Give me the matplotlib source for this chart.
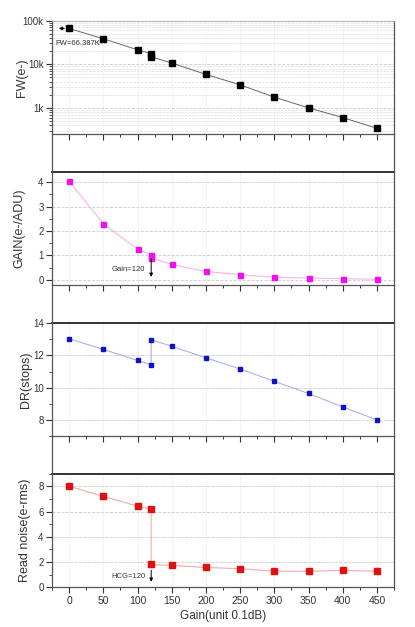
import numpy as np
from matplotlib import pyplot as plt
from matplotlib.lines import Line2D
from matplotlib.ticker import MultipleLocator, LogLocator, NullFormatter, FuncFormatter

plt.rcParams['font.family'] = ['Liberation Sans', 'DejaVu Sans']

# gain setting (0.1 dB units), 120 appears twice: LCG -> HCG switch
gain = [0, 50, 100, 120, 120, 150, 200, 250, 300, 350, 400, 450]
fw = [66387, 38500, 21500, 17500, 14900, 10700, 5850, 3380, 1760, 1000, 600, 340]
gain_adu = [4.04, 2.30, 1.25, 1.03, 0.90, 0.63, 0.34, 0.21, 0.10, 0.07, 0.04, 0.02]
dr = [13.03, 12.37, 11.69, 11.42, 12.97, 12.56, 11.85, 11.16, 10.40, 9.65, 8.82, 8.02]
rn = [8.0, 7.20, 6.43, 6.20, 1.80, 1.72, 1.56, 1.46, 1.27, 1.25, 1.33, 1.25]

W, H = 415, 627
fig = plt.figure(figsize=(W / 100, H / 100), dpi=100)

left, right = 52, 394
tops = [20.7, 171.7, 323.0, 473.7]
ph = 113.4

def fr(x0, y0, w, h):
    return [x0 / W, 1 - (y0 + h) / H, w / W, h / H]

axes = []
for i, t in enumerate(tops):
    ax = fig.add_axes(fr(left, t, right - left, ph))
    axes.append(ax)

# connecting side lines in the gaps between layers
for i in range(3):
    y_a = 1 - (tops[i] + ph) / H
    y_b = 1 - tops[i + 1] / H
    for xx in (left, right):
        fig.add_artist(Line2D([xx / W, xx / W], [y_a, y_b], color='#555555', lw=0.9))

def style(ax, last=False):
    ax.set_xlim(-25, 475)
    ax.xaxis.set_major_locator(MultipleLocator(50))
    ax.xaxis.set_minor_locator(MultipleLocator(25))
    ax.tick_params(axis='x', which='major', direction='out', length=4, width=0.8,
                   labelsize=7.5, colors='#333333', pad=2.5)
    ax.tick_params(axis='x', which='minor', direction='out', length=2, width=0.7, colors='#333333')
    ax.tick_params(axis='y', which='major', direction='out', length=4, width=0.8,
                   labelsize=7, colors='#333333', pad=2)
    ax.tick_params(axis='y', which='minor', direction='out', length=2, width=0.6, colors='#333333')
    if not last:
        ax.tick_params(axis='x', labelbottom=False)
    for s in ('left', 'bottom', 'right'):
        ax.spines[s].set_color('#555555')
        ax.spines[s].set_linewidth(0.9)
    ax.spines['top'].set_color('#333333')
    ax.spines['top'].set_linewidth(1.4)
    ax.grid(True, axis='y', which='major', color='#cccccc', ls='--', lw=0.6)
    ax.grid(True, axis='x', which='major', color='#eeeeee', ls='-', lw=0.5)
    ax.set_axisbelow(True)

# FW panel
ax = axes[0]
style(ax)
ax.set_yscale('log')
ax.set_ylim(250, 100000)
ax.yaxis.set_major_locator(LogLocator(base=10, numticks=10))
ax.yaxis.set_minor_locator(LogLocator(base=10, subs=np.arange(2, 10), numticks=20))
ax.yaxis.set_minor_formatter(NullFormatter())
ax.yaxis.set_major_formatter(FuncFormatter(lambda v, p: {1000: '1k', 10000: '10k', 100000: '100k'}.get(int(round(v)), '')))
ax.grid(True, axis='y', which='minor', color='#dddddd', ls='--', lw=0.5)
ax.spines['top'].set_color('#aaaaaa')
ax.spines['top'].set_linewidth(0.6)
ax.plot(gain, fw, color='#666666', lw=0.7, marker='s', ms=4.3, mfc='black', mec='black', zorder=3)
ax.annotate('', xy=(-19, 66387), xytext=(-3, 66387),
            arrowprops=dict(arrowstyle='-|>', color='black', lw=0.7, mutation_scale=5))
ax.text(-20, 30000, 'FW=66.387K', fontsize=5.5, color='#333333', va='center')
ax.set_ylabel('FW(e-)', fontsize=9, color='#333333')
ax.yaxis.set_label_coords(-0.070, 0.5)

# GAIN panel
ax = axes[1]
style(ax)
ax.set_ylim(-0.22, 4.43)
ax.yaxis.set_major_locator(MultipleLocator(1))
ax.yaxis.set_minor_locator(MultipleLocator(0.5))
ax.plot(gain, gain_adu, color='#f5b4e6', lw=0.8, marker='s', ms=3.6, mfc='#ee10ee', mec='#ee10ee', zorder=3)
ax.annotate('', xy=(120, 0.0), xytext=(120, 0.98),
            arrowprops=dict(arrowstyle='-|>', color='black', lw=0.7, mutation_scale=5))
ax.text(111, 0.44, 'Gain=120', fontsize=5.5, color='#333333', ha='right', va='center')
ax.set_ylabel('GAIN(e-/ADU)', fontsize=9, color='#333333')
ax.yaxis.set_label_coords(-0.079, 0.5)

# DR panel
ax = axes[2]
style(ax)
ax.set_ylim(7, 14)
ax.yaxis.set_major_locator(MultipleLocator(2))
ax.yaxis.set_minor_locator(MultipleLocator(1))
ax.plot(gain, dr, color='#aeaef0', lw=0.8, marker='s', ms=3.2, mfc='#1010c8', mec='#1010c8', zorder=3)
ax.set_ylabel('DR(stops)', fontsize=9, color='#333333')
ax.yaxis.set_label_coords(-0.058, 0.5)

# Read noise panel
ax = axes[3]
style(ax, last=True)
ax.set_ylim(0, 9)
ax.yaxis.set_major_locator(MultipleLocator(2))
ax.yaxis.set_minor_locator(MultipleLocator(1))
ax.plot(gain, rn, color='#f5a8a8', lw=0.8, marker='s', ms=3.8, mfc='#e01010', mec='#e01010', zorder=3)
ax.annotate('', xy=(120, 0.2), xytext=(120, 1.55),
            arrowprops=dict(arrowstyle='-|>', color='black', lw=0.7, mutation_scale=5))
ax.text(111, 0.82, 'HCG=120', fontsize=5.5, color='#333333', ha='right', va='center')
ax.set_ylabel('Read noise(e-rms)', fontsize=9, color='#333333')
ax.yaxis.set_label_coords(-0.060, 0.5)
ax.set_xlabel('Gain(unit 0.1dB)', fontsize=8.5, color='#333333', labelpad=3)

fig.savefig('out.png', dpi=100)
